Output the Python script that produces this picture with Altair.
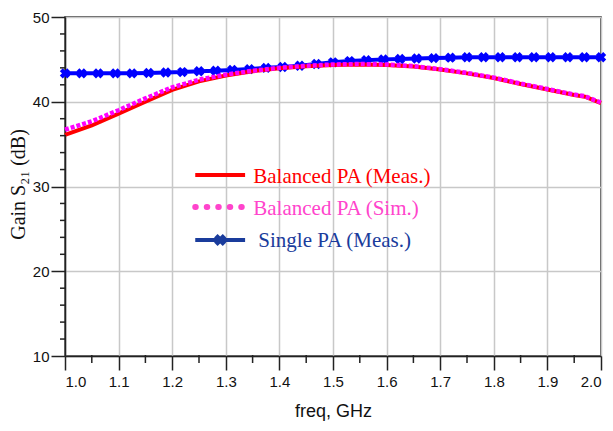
import altair as alt
import pandas as pd

# ---- data ----
freq_bal = [1.00, 1.05, 1.10, 1.15, 1.20, 1.25, 1.30, 1.35, 1.40, 1.45, 1.50,
            1.55, 1.60, 1.65, 1.70, 1.75, 1.80, 1.85, 1.90, 1.95, 1.97, 2.00]
gain_meas = [36.1, 37.2, 38.6, 40.0, 41.4, 42.4, 43.1, 43.6, 43.95, 44.2, 44.35,
             44.4, 44.35, 44.15, 43.8, 43.35, 42.8, 42.1, 41.45, 40.8, 40.6, 39.85]
gain_sim = [36.7, 37.7, 39.0, 40.4, 41.7, 42.6, 43.2, 43.65, 44.0, 44.25, 44.4,
            44.45, 44.4, 44.2, 43.85, 43.4, 42.85, 42.15, 41.5, 40.85, 40.65, 39.9]

freq_single = [1.000, 1.031, 1.062, 1.094, 1.125, 1.156, 1.188, 1.219, 1.250, 1.281,
               1.312, 1.344, 1.375, 1.406, 1.438, 1.469, 1.500, 1.531, 1.562, 1.594,
               1.625, 1.656, 1.688, 1.719, 1.750, 1.781, 1.812, 1.844, 1.875, 1.906,
               1.938, 1.969, 2.000]
gain_single = [43.35, 43.35, 43.35, 43.35, 43.35, 43.4, 43.45, 43.5, 43.6, 43.65,
               43.75, 43.85, 44.0, 44.1, 44.25, 44.45, 44.65, 44.8, 44.9, 45.0,
               45.05, 45.1, 45.15, 45.2, 45.25, 45.25, 45.25, 45.25, 45.25, 45.25,
               45.25, 45.25, 45.25]

x_ticks = [1.0, 1.1, 1.2, 1.3, 1.4, 1.5, 1.6, 1.7, 1.8, 1.9, 2.0]
x_minor = [1.05, 1.15, 1.25, 1.35, 1.45, 1.55, 1.65, 1.75, 1.85, 1.95]
y_ticks = [10, 20, 30, 40, 50]
y_minor = [12, 14, 16, 18, 22, 24, 26, 28, 32, 34, 36, 38, 42, 44, 46, 48]

legend_labels = ["Balanced PA (Meas.)", "Balanced PA (Sim.)", "Single PA (Meas.)"]
legend_colors = ["#ff0000", "#ff44cc", "#1a3c9c"]
legend_gain = [31.36, 27.58, 23.69]
legend_text_gain = [31.1, 27.35, 23.57]
legend_x0, legend_x1 = 1.243, 1.336
legend_text_x = [1.3513, 1.3513, 1.3607]

W, H = 536, 339
FONT_SANS = "Liberation Sans"
FONT_SERIF = "Liberation Serif"

xs = alt.Scale(domain=[1.0, 2.0], nice=False, zero=False)
ys = alt.Scale(domain=[10, 50], nice=False, zero=False)

df_bal = pd.DataFrame({"freq": freq_bal, "meas": gain_meas, "sim": gain_sim})
df_single = pd.DataFrame({"freq": freq_single, "gain": gain_single})

x_axis = alt.Axis(values=x_ticks, format=".1f", title="freq, GHz",
                  labelFont=FONT_SANS, labelFontSize=15, labelColor="#111",
                  labelPadding=4, tickSize=14, tickColor="#222", tickWidth=1.5,
                  domainColor="#222", domainWidth=1.5,
                  grid=True, gridColor="#c8c8c8", gridWidth=1.5,
                  titleFont=FONT_SANS, titleFontSize=18, titleFontWeight="normal",
                  titleColor="#111", titleX=W / 2, titleY=55, titleBaseline="middle")
y_axis = alt.Axis(values=y_ticks, title="Gain S₂₁ (dB)",
                  labelFont=FONT_SANS, labelFontSize=15, labelColor="#111",
                  labelPadding=2, tickSize=14, tickColor="#222", tickWidth=1.5,
                  domainColor="#222", domainWidth=1.5,
                  grid=True, gridColor="#c8c8c8", gridWidth=1.5,
                  titleFont=FONT_SERIF, titleFontSize=20, titleFontWeight="normal",
                  titleColor="#111", titleX=-47, titleY=167, titleBaseline="middle",
                  titleAlign="center")

base = alt.Chart(df_single)

single_line = base.mark_line(color="#0000ff", strokeWidth=4).encode(
    x=alt.X("freq:Q", scale=xs, axis=x_axis),
    y=alt.Y("gain:Q", scale=ys, axis=y_axis),
)
single_pts = base.mark_point(shape="cross", angle=45, filled=True, color="#0000ff",
                             size=110, opacity=1).encode(
    x=alt.X("freq:Q", scale=xs), y=alt.Y("gain:Q", scale=ys))

meas_line = alt.Chart(df_bal).mark_line(color="#ff0000", strokeWidth=4).encode(
    x=alt.X("freq:Q", scale=xs), y=alt.Y("meas:Q", scale=ys))
sim_line = alt.Chart(df_bal).mark_line(color="#ff00ff", strokeWidth=4.5,
                                       strokeDash=[4, 2]).encode(
    x=alt.X("freq:Q", scale=xs), y=alt.Y("sim:Q", scale=ys))

# minor ticks
df_ym = pd.DataFrame({"v": y_minor})
y_minor_ticks = alt.Chart(df_ym).mark_rule(color="#222", strokeWidth=1.5).encode(
    y=alt.Y("v:Q", scale=ys), x=alt.value(-5), x2=alt.value(1))
df_xm = pd.DataFrame({"v": x_minor})
x_minor_ticks = alt.Chart(df_xm).mark_rule(color="#222", strokeWidth=1.5).encode(
    x=alt.X("v:Q", scale=xs), y=alt.value(H - 1), y2=alt.value(H + 7))

# legend
df_leg = pd.DataFrame({
    "label": legend_labels, "color": legend_colors, "g": legend_gain,
    "tg": legend_text_gain, "tx": legend_text_x,
    "x0": [legend_x0] * 3, "x1": [legend_x1] * 3,
})
leg_red = alt.Chart(df_leg.iloc[[0]]).mark_rule(color="#ff0000", strokeWidth=4).encode(
    x=alt.X("x0:Q", scale=xs), x2="x1:Q", y=alt.Y("g:Q", scale=ys))
leg_mag = alt.Chart(df_leg.iloc[[1]]).mark_rule(color="#ff44cc", strokeWidth=6,
                                                 strokeDash=[0.5, 11], strokeCap="round").encode(
    x=alt.X("x0:Q", scale=xs), x2="x1:Q", y=alt.Y("g:Q", scale=ys))
leg_blue = alt.Chart(df_leg.iloc[[2]]).mark_rule(color="#1a3c9c", strokeWidth=4).encode(
    x=alt.X("x0:Q", scale=xs), x2="x1:Q", y=alt.Y("g:Q", scale=ys))
leg_mark_df = pd.DataFrame({"x": [(legend_x0 + legend_x1) / 2], "g": [legend_gain[2]]})
leg_blue_mark = alt.Chart(leg_mark_df).mark_point(shape="cross", angle=45, filled=True,
                                                  color="#1a3c9c", size=150, opacity=1).encode(
    x=alt.X("x:Q", scale=xs), y=alt.Y("g:Q", scale=ys))
leg_text = alt.Chart(df_leg).mark_text(align="left", baseline="middle", font=FONT_SERIF,
                                       fontSize=21).encode(
    x=alt.X("tx:Q", scale=xs), y=alt.Y("tg:Q", scale=ys), text="label:N",
    color=alt.Color("color:N", scale=None))

chart = alt.layer(
    single_line, single_pts, meas_line, sim_line,
    y_minor_ticks, x_minor_ticks,
    leg_red, leg_mag, leg_blue, leg_blue_mark, leg_text,
).properties(
    width=W, height=H,
    autosize=alt.AutoSizeParams(type="none"),
    padding={"left": 65, "top": 17, "right": 12, "bottom": 75},
    background="white",
).configure_view(stroke="#222", strokeWidth=1.5)

chart.save("out.html", embed_options={"renderer": "svg", "actions": False})
